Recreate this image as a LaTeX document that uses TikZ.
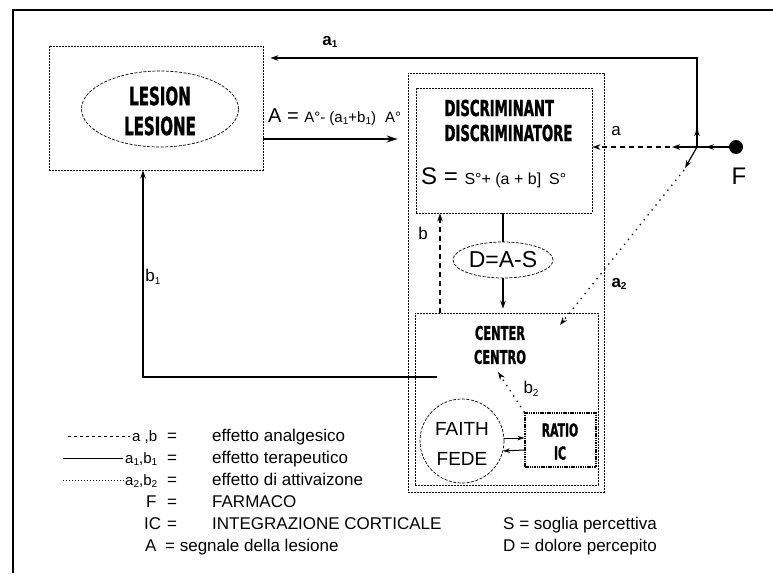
\documentclass[tikz,border=0pt]{standalone}
\usepackage{fontspec}
\setmainfont{Liberation Sans}
\newfontfamily\impactfont{DejaVu Sans}[FakeStretch=0.6, BoldFeatures={FakeBold=1.2}]
\usetikzlibrary{arrows.meta,shapes.geometric}
\tikzset{
  fine/.style={draw, line width=0.8pt, dash pattern=on 2pt off 1pt},
  fineell/.style={draw, line width=0.7pt, dash pattern=on 3pt off 1.5pt},
  conn/.style={line width=1.2pt},
  tip/.style={-{Stealth[length=8pt,width=5.5pt]}},
  dashconn/.style={line width=1.3pt, dash pattern=on 5pt off 4pt},
  dotconn/.style={line width=1.3pt, dash pattern=on 1.3pt off 5pt},
  imp/.style={font=\impactfont\bfseries\fontsize{25}{28}\selectfont},
  impm/.style={font=\impactfont\bfseries\fontsize{22}{24}\selectfont},
  imps/.style={font=\impactfont\bfseries\fontsize{19}{21}\selectfont},
  lbl/.style={font=\fontsize{17}{19}\selectfont, inner sep=0pt},
  leg/.style={font=\fontsize{17}{19}\selectfont, inner sep=0pt, anchor=base west},
  legs/.style={font=\fontsize{15}{17}\selectfont, inner sep=0pt, anchor=base west},
}
\newcommand{\sbs}[1]{\raisebox{-0.15em}{\fontsize{10}{11}\selectfont #1}}
\begin{document}
\begin{tikzpicture}[x=1pt,y=-1pt]
\useasboundingbox (0,0) rectangle (773,573);
% frame
\draw[line width=1.1pt] (13,573) -- (13,10) -- (773,10);

% lesion
\node[fine, rectangle, minimum width=214pt, minimum height=124pt] (lesbox) at (156,108) {};
\node[fineell, ellipse, minimum width=157pt, minimum height=76pt] (lesell) at (160,109) {};
\node[imp] (lesion) at (160,96) {LESION};
\node[imp] (lesione) at (160,126) {LESIONE};

% big outer dotted box and discriminant
\node[fine, rectangle, minimum width=196pt, minimum height=419pt] (outer) at (506,282.5) {};
\node[fine, rectangle, minimum width=176pt, minimum height=125pt] (disc) at (504,150.5) {};
\node[impm, anchor=west] (discr1) at (441,108) {DISCRIMINANT};
\node[impm, anchor=west] (discr2) at (441,133) {DISCRIMINATORE};
\node[inner sep=0pt, anchor=west] (sform) at (421,178)
  {{\fontsize{24}{26}\selectfont S = }{\fontsize{16}{18}\selectfont S°+ (a + b]\hspace{0.5em}S°}};

% D ellipse
\node[fineell, ellipse, minimum width=100pt, minimum height=36pt] (dell) at (503,260) {};
\node[inner sep=0pt, font=\fontsize{23}{25}\selectfont] (dtext) at (503,260) {D=A-S};

% center box
\node[fine, rectangle, minimum width=183pt, minimum height=172pt] (center) at (506.5,399) {};
\node[imps] (centr1) at (500,333) {CENTER};
\node[imps] (centr2) at (500,357) {CENTRO};

% faith and ratio
\node[fineell, circle, minimum size=84pt] (faith) at (462,441) {};
\node[inner sep=0pt, font=\fontsize{19}{21}\selectfont] (faitht) at (462,429) {FAITH};
\node[inner sep=0pt, font=\fontsize{19}{21}\selectfont] (fedet) at (462,459) {FEDE};
\node[draw, line width=1.2pt, dash pattern=on 1.5pt off 0.8pt, rectangle, minimum width=71pt, minimum height=54pt] (ratio) at (560.5,440) {};
\node[imps, font=\impactfont\bfseries\fontsize{18}{20}\selectfont] (ratiot) at (560,430) {RATIO};
\node[imps, font=\impactfont\bfseries\fontsize{18}{20}\selectfont] (ict) at (560,453) {IC};

% F
\node[circle, fill=black, minimum size=14pt, inner sep=0pt] (F) at (736,147) {};
\node[inner sep=0pt, font=\fontsize{24}{26}\selectfont] (Flabel) at (739,176) {F};
\coordinate (J) at (697,147);
\coordinate (a1c) at (697,58);
\coordinate (a2end) at (560,325);
\coordinate (b2end) at (498,372);
\coordinate (b1c) at (143,377);

% A arrow
\draw[line width=2.2pt, -{Stealth[length=11pt,width=7pt]}, shorten >=10pt]
  ([yshift=-31pt]lesbox.east) -- ([yshift=-31pt]lesbox.east -| outer.west);
\node[inner sep=0pt, anchor=base west] (aform) at (268,122)
  {{\fontsize{20}{22}\selectfont A = }{\fontsize{15}{17}\selectfont A°- (a\sbs{1}+b\sbs{1})\hspace{0.6em}A°}};

% F connections
\draw[conn] (F) -- (J);
\draw[conn, tip] (F.west) -- ++(-23,0);
\draw[conn, tip] (J) -- ++(0,-19);
\draw[conn, tip, shorten >=7pt] (J) -- (a1c) -- (a1c -| lesbox.east);
\node[lbl, font=\bfseries\fontsize{17}{19}\selectfont] (a1lab) at (330,42) {a\sbs{1}};
\draw[dashconn, tip] (J) -- (disc.east |- J);
\draw[conn, tip] (J) -- ++(-25,0);
\node[lbl] (alab) at (616,131) {a};
\draw[conn, tip] (J) -- ++(-12,21);
\draw[dotconn, tip] ([shift={(-13,23)}]J) -- (a2end);
\node[lbl, font=\bfseries\fontsize{17}{19}\selectfont] (a2lab) at (619,284) {a\sbs{2}};

% b dashed
\draw[dashconn, tip] (center.north -| 440,0) -- (disc.south -| 440,0);
\node[lbl] (blab) at (423,233) {b};

% disc - D - center
\draw[line width=1.8pt] (dell.north |- disc.south) -- (dell.north);
\draw[line width=1.8pt, tip, shorten >=4pt] (dell.south) -- (dell.south |- center.north);

% b1
\draw[conn, tip] ([shift={(22,-22)}]center.west) -- (b1c) -- (b1c |- lesbox.south);
\node[lbl] (b1lab) at (153,277) {b\sbs{1}};

% b2
\draw[dotconn, tip] (ratio.north west) -- (b2end);
\node[lbl] (b2lab) at (531,389) {b\sbs{2}};

% faith <-> ratio
\draw[line width=1pt, -{Stealth[length=7pt,width=4.5pt]}] ([yshift=3pt]faith.east) -- ([yshift=2pt]ratio.west);
\draw[line width=1pt, -{Stealth[length=7pt,width=4.5pt]}] ([yshift=-10pt]ratio.west) -- ([shift={(-1.5,10)}]faith.east);

% legend
\coordinate (l1) at (68,436);
\draw[line width=0.8pt, dash pattern=on 3pt off 3pt] (l1) -- ++(62,0);
\node[legs] (g1a) at (132,441) {a ,b};
\node[leg] (g1b) at (167,441) {=};
\node[leg] (g1c) at (212,441) {effetto analgesico};
\coordinate (l2) at (63,458);
\draw[line width=1pt] (l2) -- ++(60,0);
\node[legs] (g2a) at (125,463) {a\sbs{1},b\sbs{1}};
\node[leg] (g2b) at (167,463) {=};
\node[leg] (g2c) at (212,463) {effetto terapeutico};
\coordinate (l3) at (63,480);
\draw[line width=0.8pt, dash pattern=on 0.8pt off 2.2pt] (l3) -- ++(62,0);
\node[legs] (g3a) at (125,485) {a\sbs{2},b\sbs{2}};
\node[leg] (g3b) at (167,485) {=};
\node[leg] (g3c) at (212,485) {effetto di attivaizone};
\node[leg] (g4a) at (146,507) {F};
\node[leg] (g4b) at (167,507) {=};
\node[leg] (g4c) at (212,507) {FARMACO};
\node[leg] (g5a) at (144,529) {IC};
\node[leg] (g5b) at (167,529) {=};
\node[leg] (g5c) at (212,529) {INTEGRAZIONE CORTICALE};
\node[leg] (g6a) at (145,551) {A};
\node[leg] (g6c) at (165,551) {= segnale della lesione};
\node[leg] (g7) at (503,529) {S = soglia percettiva};
\node[leg] (g8) at (503,551) {D = dolore percepito};
\end{tikzpicture}
\end{document}
